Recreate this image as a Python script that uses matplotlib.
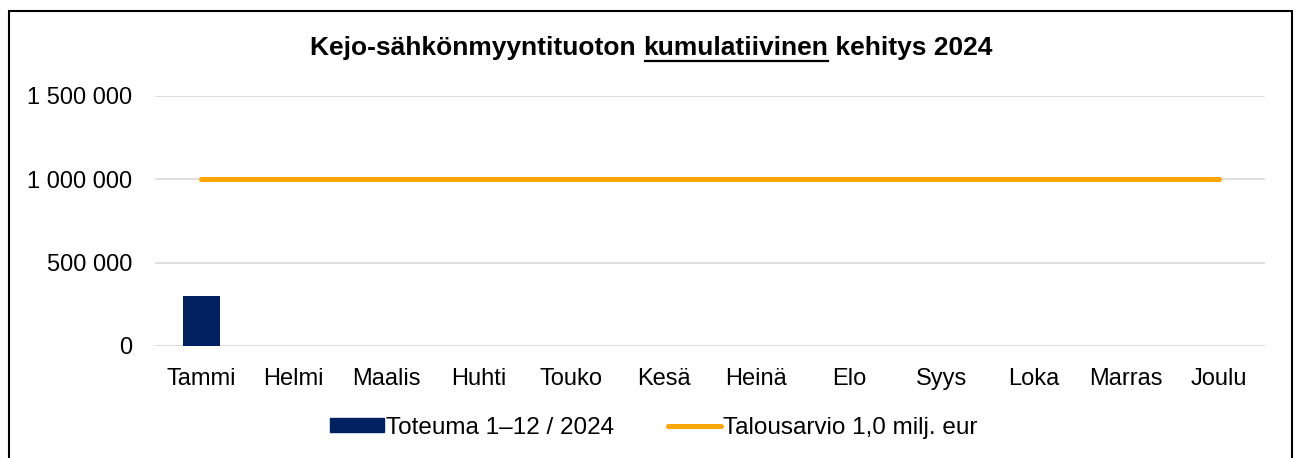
import matplotlib
matplotlib.use("Agg")
import matplotlib.pyplot as plt
from matplotlib.patches import Rectangle
from matplotlib.lines import Line2D

# dati
kuukaudet = ["Tammi", "Helmi", "Maalis", "Huhti", "Touko", "Kesä",
             "Heinä", "Elo", "Syys", "Loka", "Marras", "Joulu"]
toteuma = [300000, 0, 0, 0, 0, 0, 0, 0, 0, 0, 0, 0]
talousarvio = [1000000] * 12
y_ticks = [0, 500000, 1000000, 1500000]

plt.rcParams["font.family"] = ["Liberation Sans", "DejaVu Sans"]

fig = plt.figure(figsize=(12.95, 4.58), dpi=100)
ax = fig.add_axes([155 / 1295, 1 - 346 / 458, 1110 / 1295, 250 / 458])

x = list(range(len(kuukaudet)))
ax.bar(x, toteuma, width=0.4, color="#002060", zorder=3,
       label="Toteuma 1–12 / 2024")
ax.plot(x, talousarvio, color="#FFA500", linewidth=3.6,
        solid_capstyle="round", zorder=4, label="Talousarvio 1,0 milj. eur")

ax.set_xlim(-0.5, 11.5)
ax.set_ylim(0, 1500000)
ax.set_xticks(x)
ax.set_xticklabels(kuukaudet, fontsize=17)
ax.set_yticks(y_ticks)
ax.set_yticklabels([f"{v:,}".replace(",", " ") for v in y_ticks], fontsize=17)
ax.tick_params(axis="both", length=0)
ax.tick_params(axis="y", pad=16.5)
ax.tick_params(axis="x", pad=16)
ax.grid(axis="y", color="#D9D9D9", linewidth=1.2, zorder=0)
for s in ax.spines.values():
    s.set_visible(False)

# legenda
handles = [Rectangle((0, 0), 1, 1, color="#002060"),
           Line2D([0], [0], color="#FFA500", linewidth=3.6, solid_capstyle="round")]
fig.legend(handles, ["Toteuma 1–12 / 2024", "Talousarvio 1,0 milj. eur"],
           loc="center", bbox_to_anchor=(0.505, 1 - 428 / 458), ncol=2,
           frameon=False, fontsize=17.5, handlelength=2.2, handletextpad=0.1,
           columnspacing=2.2, handleheight=0.5)

# otsikko, keskimmäinen sana alleviivattu
parti = ["Kejo-sähkönmyyntituoton ", "kumulatiivinen", " kehitys 2024"]
ty = 1 - 48 / 458
fs_title = 19
fig.canvas.draw()
r = fig.canvas.get_renderer()
testi = fig.text(0, 0, "".join(parti), fontsize=fs_title, fontweight="bold")
w_tot = testi.get_window_extent(r).width
testi.remove()
xpix = 651 - w_tot / 2
for i, p in enumerate(parti):
    t = fig.text(xpix / fig.bbox.width, ty, p, fontsize=fs_title, fontweight="bold",
                 ha="left", va="center")
    bb = t.get_window_extent(r)
    if i == 1:
        yline = (bb.y0 - 1) / fig.bbox.height
        fig.add_artist(Line2D([(bb.x0 + 2) / fig.bbox.width, bb.x1 / fig.bbox.width],
                              [yline, yline], color="black", linewidth=1.6))
    xpix += bb.width

# kehys
fig.add_artist(Rectangle((9 / 1295, -0.05), 1283 / 1295, 1.05 - 11 / 458,
                         transform=fig.transFigure, fill=False,
                         edgecolor="black", linewidth=1.5))

fig.savefig("out.png", dpi=100)
plt.close(fig)
